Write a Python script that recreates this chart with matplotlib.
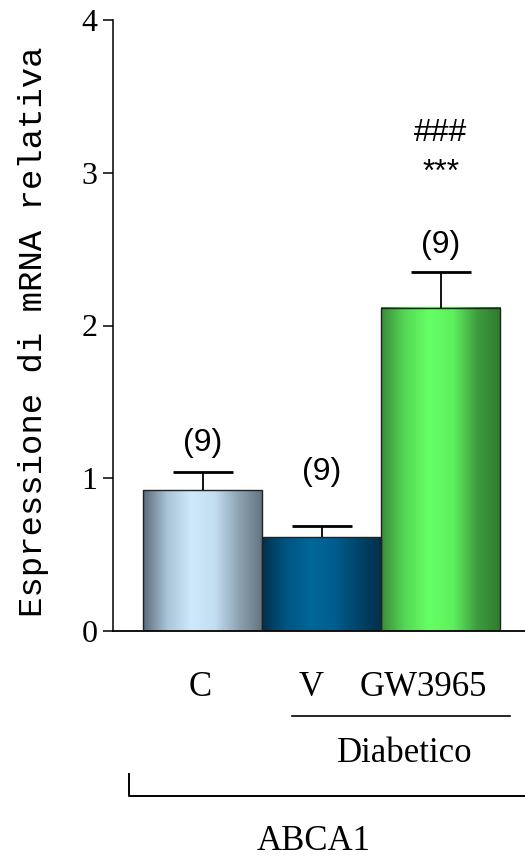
import numpy as np
import matplotlib.pyplot as plt
from matplotlib.colors import LinearSegmentedColormap
from matplotlib.lines import Line2D

# Data -------------------------------------------------------------------------
groups = ['C', 'V', 'GW3965']
means = [0.92, 0.613, 2.115]
sems = [0.118, 0.075, 0.235]
n_labels = ['(9)', '(9)', '(9)']
sig_labels = ['', '', '***']
sig2_labels = ['', '', '###']

# Styles -----------------------------------------------------------------------
bar_grads = [
    ['#5a6b79', '#a9c4d6', '#cde9fb', '#c3def0', '#8ea3b2', '#627380'],
    ['#00304c', '#005581', '#006699', '#005e8e', '#00456b', '#002f4b'],
    ['#3a8a3a', '#55d855', '#66ff66', '#5ef05e', '#3f9c3f', '#2f7a2f'],
]
serif = ['Liberation Serif', 'DejaVu Serif']
sans = ['Liberation Sans', 'DejaVu Sans']

W, H = 525, 859
fig = plt.figure(figsize=(W / 100, H / 100), dpi=100)

def fx(px):
    return px / W

def fy(py):
    return 1 - py / H

ax = fig.add_axes([fx(113), fy(631), fx(525) - fx(113), fy(20) - fy(631)])

x = np.arange(len(groups))
width = 1.0
grad = np.linspace(0, 1, 256)[np.newaxis, :]
for xi, m, cols in zip(x, means, bar_grads):
    cmap = LinearSegmentedColormap.from_list('g', cols)
    ax.imshow(grad, extent=[xi - width / 2, xi + width / 2, 0, m],
              aspect='auto', cmap=cmap, zorder=2, interpolation='bilinear')
ax.bar(x, means, width=width, fill=False, edgecolor='#222222', linewidth=1.0, zorder=3)
eb = ax.errorbar(x, means, yerr=[np.zeros(len(x)), sems], fmt='none', ecolor='black',
                 elinewidth=1.3, capsize=21.5, capthick=2.0, zorder=4)
# hide the lower caps (one-sided error bars)
eb[1][0].set_visible(False)

# (n) labels and significance marks
label_offsets = [0.19, 0.35, 0.18]
for xi, m, s, lab, off in zip(x, means, sems, n_labels, label_offsets):
    ax.text(xi, m + s + off, lab, ha='center', va='center', fontsize=23, family=sans)
for xi, lab in zip(x, sig_labels):
    if lab:
        ax.text(xi, 3.0, lab, ha='center', va='center', fontsize=23, family=sans)
for xi, lab in zip(x, sig2_labels):
    if lab:
        ax.text(xi, 3.26, lab, ha='center', va='center', fontsize=23, family=sans)

ax.set_xlim(-0.756, 2.706)
ax.set_ylim(0, 4)
ax.set_yticks([0, 1, 2, 3, 4])
ax.set_yticklabels(['0', '1', '2', '3', '4'], fontsize=23, family=serif)
ax.set_xticks([])
ax.tick_params(axis='y', direction='out', length=7.2, width=1.1, pad=4)
ax.spines['top'].set_visible(False)
ax.spines['right'].set_visible(False)
ax.spines['left'].set_linewidth(1.1)
ax.spines['bottom'].set_linewidth(1.3)

ax.set_ylabel('Espressione di mRNA relativa', fontsize=24.5,
              family=['Liberation Mono', 'DejaVu Sans Mono'])
ax.yaxis.set_label_coords(-0.155, 0.49)

# Group labels under the axis
cat_x = [200, 311, 423]
for cx, g in zip(cat_x, groups):
    fig.text(fx(cx), fy(688), g, ha='center', va='center', fontsize=25, family=serif)
fig.add_artist(Line2D([fx(292), fx(510)], [fy(716), fy(716)], color='black', lw=1.2))
fig.text(fx(405), fy(754), 'Diabetico', ha='center', va='center', fontsize=25, family=serif)
fig.add_artist(Line2D([fx(129), fx(129), fx(525)], [fy(774), fy(796), fy(796)],
                      color='black', lw=1.4))
fig.text(fx(314), fy(842), 'ABCA1', ha='center', va='center', fontsize=25, family=serif)

fig.savefig('out.png', dpi=100)
